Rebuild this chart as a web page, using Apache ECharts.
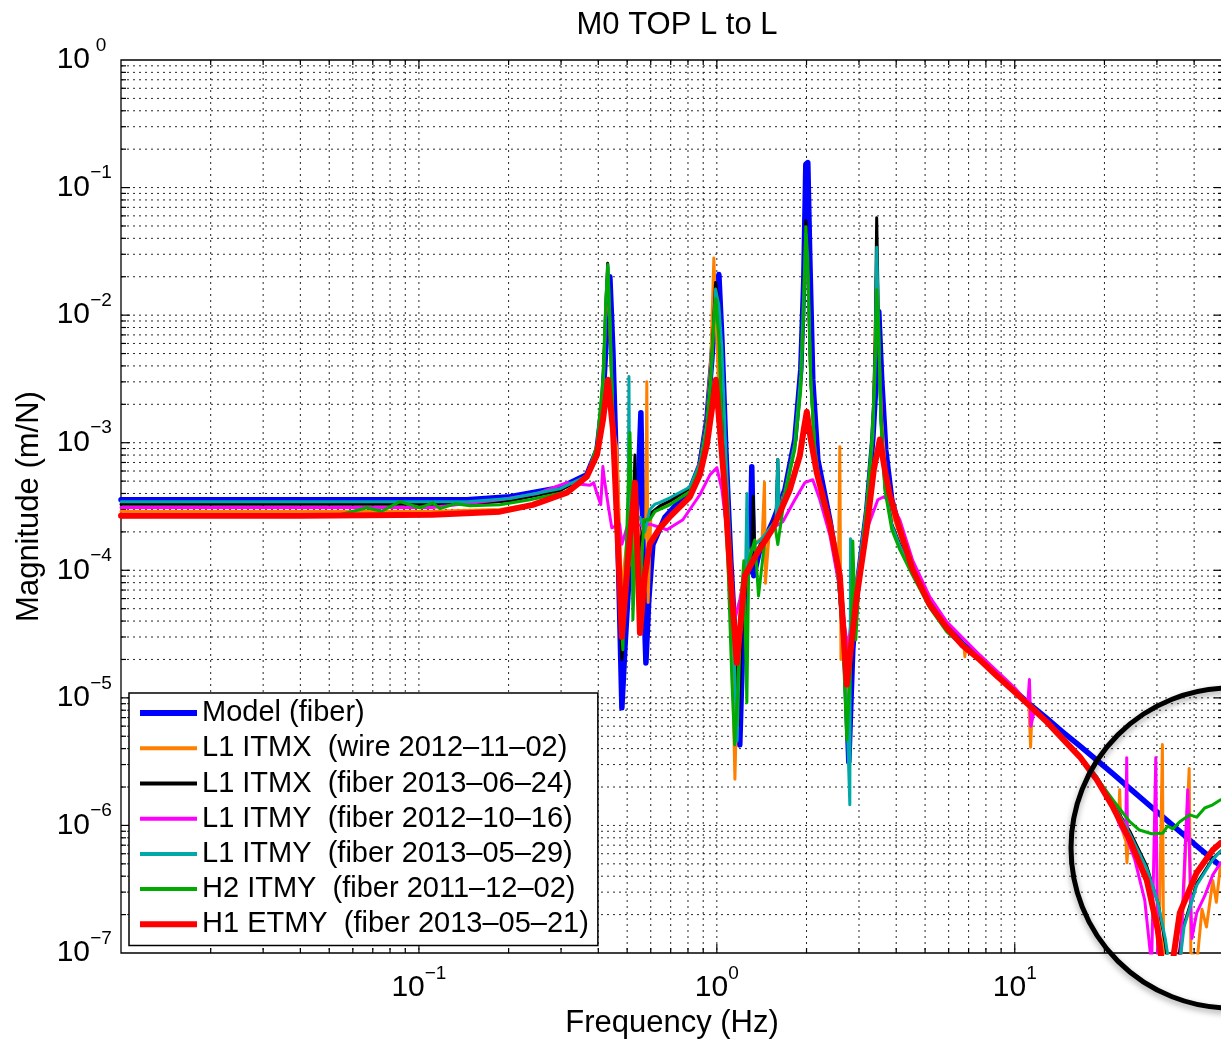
<!DOCTYPE html>
<html>
<head>
<meta charset="utf-8">
<script src="https://cdn.jsdelivr.net/npm/echarts@6/dist/echarts.min.js"></script>
<style>html,body{margin:0;padding:0;background:#fff}#chart{width:1221px;height:1039px}</style>
</head>
<body>
<div id="chart"></div>
<script>
// ---------- data: [frequency (Hz), magnitude (m/N)] ----------
const modelFiber = [[0.01,3.57e-4],[0.145,3.57e-4],[0.202,3.77e-4],[0.297,4.44e-4],[0.366,5.61e-4],[0.396,8.81e-4],[0.4145,2.17e-3],[0.4275,7.69e-3],[0.4375,0.020],[0.4477,5.37e-3],[0.458,8.81e-4],[0.469,8.27e-5],[0.480,8.35e-6],[0.491,2.38e-5],[0.511,1.19e-4],[0.535,2.49e-4],[0.547,6.14e-4],[0.556,1.72e-3],[0.569,5.87e-5],[0.578,1.88e-5],[0.591,5.87e-5],[0.610,1.59e-4],[0.669,2.6e-4],[0.812,4.28e-4],[0.877,6.72e-4],[0.926,1.52e-3],[0.962,4.48e-3],[0.992,1.32e-2],[1.016,2.08e-2],[1.040,6.43e-3],[1.072,8.81e-4],[1.114,1.19e-4],[1.158,2.38e-5],[1.194,4.28e-6],[1.223,2.85e-5],[1.261,9.06e-5],[1.29,1.01e-4],[1.31,6.48e-4],[1.331,9.06e-5],[1.394,1.45e-4],[1.541,2.40e-4],[1.692,4.28e-4],[1.827,1.06e-3],[1.913,3.74e-3],[1.958,1.9e-2],[1.989,0.152],[2.02,0.157],[2.052,2.72e-2],[2.099,3.12e-3],[2.183,7.36e-4],[2.394,2.49e-4],[2.587,8.27e-5],[2.69,2.38e-5],[2.773,3.15e-6],[2.86,2.38e-5],[2.973,8.27e-5],[3.187,2.98e-4],[3.338,1.06e-3],[3.442,3.74e-3],[3.496,1.07e-2],[3.577,3.12e-3],[3.69,8.81e-4],[3.866,3.57e-4],[4.113,2.08e-4],[4.547,1.05e-4],[5.186,5.6e-5],[5.913,3.7e-5],[6.692,2.65e-5],[7.63,2.05e-5],[8.70,1.52e-5],[10,1.13e-5],[11.23,8.9e-6],[12.81,6.9e-6],[14.49,5.4e-6],[16.53,4.2e-6],[18.85,3.25e-6],[21.33,2.55e-6],[24.32,1.95e-6],[27.73,1.5e-6],[33.6,1.02e-6],[40.8,6.9e-7],[49.1,4.8e-7]];

const l1ItmxWire = [[0.01,2.9e-4],[0.111,2.9e-4],[0.187,3.0e-4],[0.241,3.3e-4],[0.314,4.2e-4],[0.366,5.6e-4],[0.396,9.0e-4],[0.415,2.6e-3],[0.424,0.011],[0.431,0.018],[0.438,7.0e-3],[0.448,1.4e-3],[0.462,8.8e-4],[0.469,3.0e-4],[0.480,6.0e-5],[0.491,1.2e-4],[0.503,2.0e-4],[0.52,1.2e-4],[0.531,2.2e-4],[0.552,1.5e-4],[0.568,2.5e-4],[0.577,1.8e-4],[0.582,3.0e-3],[0.588,5.6e-5],[0.60,2.6e-4],[0.62,2.9e-4],[0.644,3.1e-4],[0.696,3.4e-4],[0.812,4.3e-4],[0.877,7.0e-4],[0.926,1.6e-3],[0.955,4.5e-3],[0.977,0.028],[0.99,0.012],[1.01,3.5e-3],[1.04,8.5e-4],[1.08,1.6e-4],[1.12,3.5e-5],[1.15,2.3e-6],[1.175,2.0e-5],[1.21,7.0e-5],[1.25,1.2e-4],[1.33,1.6e-4],[1.42,1.8e-4],[1.445,4.9e-4],[1.455,7.9e-5],[1.50,2.0e-4],[1.60,2.8e-4],[1.692,4.2e-4],[1.827,1.0e-3],[1.913,3.5e-3],[1.958,0.015],[1.99,0.05],[2.02,0.02],[2.067,3.0e-3],[2.133,9.0e-4],[2.25,3.6e-4],[2.394,2.2e-4],[2.56,1.1e-4],[2.587,9.3e-4],[2.61,2.0e-5],[2.65,4.0e-5],[2.731,6.0e-6],[2.80,2.0e-5],[2.95,7.0e-5],[3.187,3.2e-4],[3.338,1.1e-3],[3.43,0.02],[3.496,6.0e-3],[3.577,1.5e-3],[3.69,5.5e-4],[3.866,2.8e-4],[4.113,1.9e-4],[4.547,1.0e-4],[5.186,5.4e-5],[5.913,3.6e-5],[6.75,2.6e-5],[6.80,2.1e-5],[6.85,2.5e-5],[7.63,2.0e-5],[8.70,1.5e-5],[10,1.12e-5],[11.15,8.9e-6],[11.3,4.1e-6],[11.45,8.6e-6],[12.81,6.5e-6],[14.49,4.8e-6],[16.53,3.5e-6],[18.85,2.3e-6],[21.33,1.4e-6],[22.3,1.1e-6],[22.5,1.9e-6],[22.7,1.0e-6],[23.6,7.5e-7],[23.8,5.1e-7],[24.1,8.0e-7],[26.0,5.0e-7],[28.5,3.0e-7],[30.5,1.2e-7],[31.3,4.3e-6],[31.6,8.0e-8],[33.0,7.0e-8],[36.0,8.0e-8],[38.5,2.8e-6],[39.0,1.0e-7],[41.0,9.0e-8],[42.5,2.2e-7],[44.0,1.6e-7],[46.2,3.7e-7],[47.5,2.5e-7],[49.1,5.0e-7]];

const l1ItmxFiber = [[0.01,3.3e-4],[0.145,3.3e-4],[0.202,3.5e-4],[0.297,4.2e-4],[0.366,5.5e-4],[0.396,8.8e-4],[0.4145,2.6e-3],[0.424,0.012],[0.430,0.0255],[0.437,0.01],[0.448,1.5e-3],[0.458,3.5e-4],[0.469,8.0e-5],[0.480,2.0e-5],[0.491,5.0e-5],[0.51,1.5e-4],[0.525,3.0e-4],[0.531,8.0e-4],[0.537,1.0e-4],[0.55,1.6e-4],[0.57,2.2e-4],[0.60,2.8e-4],[0.644,3.2e-4],[0.696,3.5e-4],[0.812,4.4e-4],[0.877,6.8e-4],[0.926,1.55e-3],[0.962,4.6e-3],[0.99,0.018],[1.016,0.012],[1.04,5.0e-3],[1.072,8.5e-4],[1.114,1.2e-4],[1.158,1.5e-5],[1.18,6.0e-6],[1.21,3.0e-5],[1.26,1.0e-4],[1.31,1.2e-4],[1.325,3.8e-4],[1.34,1.3e-4],[1.40,1.6e-4],[1.50,2.1e-4],[1.58,2.6e-4],[1.602,7.4e-4],[1.62,2.7e-4],[1.692,4.2e-4],[1.827,1.0e-3],[1.913,3.6e-3],[1.958,0.016],[1.99,0.055],[2.02,0.025],[2.067,3.2e-3],[2.133,8.8e-4],[2.25,3.6e-4],[2.394,2.3e-4],[2.547,1.0e-4],[2.648,3.2e-5],[2.75,5.0e-6],[2.85,2.8e-5],[2.95,7.5e-5],[3.187,3.1e-4],[3.338,1.1e-3],[3.40,6.0e-3],[3.44,0.058],[3.48,0.012],[3.55,1.7e-3],[3.663,4.6e-4],[3.866,2.3e-4],[4.113,1.6e-4],[4.547,9.5e-5],[5.186,5.3e-5],[5.913,3.5e-5],[7.63,2.0e-5],[10,1.12e-5],[12.81,6.6e-6],[16.53,3.5e-6],[18.85,2.4e-6],[21.33,1.5e-6],[24.32,9.0e-7],[27.73,4.8e-7],[30.2,2.5e-7],[32.0,1.2e-7],[33.0,7.0e-8],[35.0,7.0e-8],[36.5,1.5e-7],[40.8,3.5e-7],[46.2,5.5e-7],[49.1,6.3e-7]];

const l1ItmyFiber2012 = [[0.01,3.1e-4],[0.111,3.1e-4],[0.187,3.57e-4],[0.25,4.0e-4],[0.314,4.86e-4],[0.375,4.65e-4],[0.386,4.86e-4],[0.396,4.0e-4],[0.4076,3.27e-4],[0.4145,6.5e-4],[0.42,5.0e-4],[0.4341,2.98e-4],[0.444,2.15e-4],[0.472,2.3e-4],[0.48,1.6e-4],[0.50,2.2e-4],[0.596,2.3e-4],[0.68,2.08e-4],[0.769,2.49e-4],[0.877,3.91e-4],[0.948,5.6e-4],[1.0,6.37e-4],[1.04,4.28e-4],[1.089,1.73e-4],[1.148,4.09e-5],[1.194,5.9e-5],[1.261,1.1e-4],[1.394,1.45e-4],[1.507,2.08e-4],[1.665,2.4e-4],[1.827,3.57e-4],[1.974,4.86e-4],[2.099,5.13e-4],[2.217,3.57e-4],[2.394,1.9e-4],[2.587,7.1e-5],[2.752,2.38e-5],[2.905,7.1e-5],[3.187,2.08e-4],[3.47,3.57e-4],[3.635,3.77e-4],[3.806,3.45e-4],[4.113,2.49e-4],[4.547,1.19e-4],[5.186,6.2e-5],[5.913,3.95e-5],[7.63,2.17e-5],[10,1.2e-5],[11.06,9.1e-6],[11.2,1.39e-5],[11.32,6.0e-6],[11.67,8.2e-6],[14.49,4.9e-6],[18.85,2.36e-6],[21.33,1.4e-6],[22.5,1.0e-6],[23.58,8.3e-7],[23.76,3.4e-6],[23.9,7.7e-7],[25.28,5.4e-7],[27.31,2.6e-7],[28.8,8.0e-8],[29.74,3.4e-6],[30.2,8.0e-8],[32.6,7.0e-8],[35.8,7.0e-8],[38.07,1.9e-6],[39.3,1.3e-7],[40.8,2.06e-7],[43.4,2.8e-7],[46.2,4.1e-7],[49.1,5.1e-7]];

const l1ItmyFiber2013 = [[0.01,3.45e-4],[0.145,3.45e-4],[0.202,3.65e-4],[0.297,4.35e-4],[0.366,5.5e-4],[0.396,8.6e-4],[0.4145,2.4e-3],[0.424,0.012],[0.4307,0.024],[0.4375,0.0095],[0.448,1.6e-3],[0.458,3.6e-4],[0.469,1.0e-4],[0.480,3.0e-5],[0.491,8.0e-5],[0.503,1.4e-4],[0.507,3.3e-3],[0.511,1.1e-4],[0.52,2.0e-4],[0.531,2.5e-4],[0.552,2.6e-4],[0.573,2.0e-4],[0.596,3.0e-4],[0.62,3.3e-4],[0.644,3.4e-4],[0.696,3.7e-4],[0.812,4.5e-4],[0.877,6.8e-4],[0.926,1.45e-3],[0.962,4.2e-3],[0.99,0.016],[1.016,0.012],[1.04,5.5e-3],[1.072,8.5e-4],[1.114,1.15e-4],[1.148,1.6e-5],[1.17,4.6e-6],[1.194,3.0e-5],[1.223,8.0e-5],[1.25,1.1e-4],[1.262,4.0e-4],[1.275,1.2e-4],[1.34,1.6e-4],[1.394,1.7e-4],[1.45,1.9e-4],[1.52,2.2e-4],[1.58,2.5e-4],[1.602,7.4e-4],[1.62,2.7e-4],[1.692,4.1e-4],[1.827,9.8e-4],[1.913,3.4e-3],[1.958,0.0145],[1.99,0.043],[2.02,0.021],[2.067,3.0e-3],[2.133,8.6e-4],[2.25,3.5e-4],[2.394,2.25e-4],[2.547,9.5e-5],[2.648,3.0e-5],[2.731,8.0e-6],[2.795,1.45e-6],[2.81,1.77e-4],[2.825,2.5e-5],[2.86,4.0e-5],[2.95,8.0e-5],[3.187,3.2e-4],[3.338,1.15e-3],[3.40,5.0e-3],[3.44,0.034],[3.48,0.011],[3.55,1.6e-3],[3.663,4.5e-4],[3.866,2.25e-4],[4.113,1.55e-4],[4.547,9.6e-5],[5.186,5.3e-5],[5.913,3.5e-5],[7.63,2.0e-5],[10,1.12e-5],[12.81,6.6e-6],[16.53,3.5e-6],[18.85,2.4e-6],[21.33,1.5e-6],[24.32,8.6e-7],[27.73,4.6e-7],[30.2,2.5e-7],[32.0,1.3e-7],[33.3,7.0e-8],[35.5,7.0e-8],[37.0,1.6e-7],[40.8,3.4e-7],[46.2,5.4e-7],[49.1,6.3e-7]];

const h2ItmyFiber = [[0.01,2.63e-4],[0.0399,2.68e-4],[0.055,2.75e-4],[0.0669,3.09e-4],[0.075,2.9e-4],[0.0863,3.45e-4],[0.1008,3.09e-4],[0.1114,3.38e-4],[0.1176,3.04e-4],[0.132,3.32e-4],[0.1483,3.2e-4],[0.187,3.26e-4],[0.236,3.57e-4],[0.314,4.13e-4],[0.366,5.31e-4],[0.396,9.64e-4],[0.4145,3.12e-3],[0.4241,0.0132],[0.4307,0.0249],[0.4375,9.22e-3],[0.4477,1.52e-3],[0.458,2.49e-4],[0.4726,5.87e-5],[0.4837,2.38e-5],[0.4951,1.19e-4],[0.511,1.2e-3],[0.5186,2.49e-4],[0.5226,4.09e-5],[0.5347,1.73e-4],[0.5516,5.87e-5],[0.569,2.49e-4],[0.596,2.49e-4],[0.619,2.88e-4],[0.6957,3.26e-4],[0.8117,4.13e-4],[0.877,6.37e-4],[0.9256,1.27e-3],[0.9547,3.12e-3],[0.977,9.22e-3],[0.992,0.0135],[1.016,6.43e-3],[1.047,8.81e-4],[1.089,1.19e-4],[1.123,1.39e-5],[1.148,4.28e-6],[1.176,1.16e-5],[1.194,4.09e-5],[1.232,1.19e-4],[1.261,9.14e-6],[1.28,1.19e-4],[1.341,1.73e-4],[1.38,6.3e-5],[1.449,1.73e-4],[1.565,2.28e-4],[1.602,1.59e-4],[1.692,3.91e-4],[1.827,8.81e-4],[1.913,2.6e-3],[1.958,0.011],[1.989,0.0494],[2.02,0.0272],[2.067,3.12e-3],[2.133,8.81e-4],[2.25,3.57e-4],[2.394,2.28e-4],[2.547,1.01e-4],[2.648,2.85e-5],[2.731,4.68e-6],[2.817,1.99e-5],[2.86,1.7e-4],[2.927,2.85e-5],[3.019,1.01e-4],[3.187,3.26e-4],[3.312,1.06e-3],[3.39,3.12e-3],[3.442,0.0158],[3.496,7.69e-3],[3.55,1.52e-3],[3.663,4.28e-4],[3.866,2.08e-4],[4.113,1.45e-4],[4.547,9.06e-5],[5.186,5.08e-5],[5.913,3.29e-5],[7.63,1.95e-5],[10,1.09e-5],[12.81,6.48e-6],[16.53,3.45e-6],[18.85,2.36e-6],[21.33,1.59e-6],[24.32,1.07e-6],[26.2,9.2e-7],[28.8,8.6e-7],[31.4,8.7e-7],[32.6,9.9e-7],[33.9,9.4e-7],[35.8,1.07e-6],[38.7,1.21e-6],[40.8,1.16e-6],[43.4,1.37e-6],[46.2,1.45e-6],[49.1,1.59e-6]];

const h1EtmyFiber = [[0.01,2.68e-4],[0.0399,2.68e-4],[0.111,2.72e-4],[0.187,2.88e-4],[0.241,3.26e-4],[0.314,4.05e-4],[0.366,5.41e-4],[0.396,8.05e-4],[0.415,1.52e-3],[0.431,3.12e-3],[0.448,1.27e-3],[0.462,2.49e-4],[0.480,3.01e-5],[0.503,1.19e-4],[0.531,4.86e-4],[0.543,1.19e-4],[0.552,3.23e-5],[0.573,9.06e-5],[0.596,1.61e-4],[0.644,2.15e-4],[0.696,2.63e-4],[0.812,3.77e-4],[0.877,5.61e-4],[0.926,9.64e-4],[0.962,1.82e-3],[0.992,3.12e-3],[1.024,1.27e-3],[1.064,4.28e-4],[1.114,8.27e-5],[1.167,1.88e-5],[1.213,4.90e-5],[1.242,9.06e-5],[1.362,1.35e-4],[1.541,2.12e-4],[1.758,4.28e-4],[1.899,7.91e-4],[1.958,1.27e-3],[2.004,1.75e-3],[2.067,1.06e-3],[2.165,5.82e-4],[2.394,2.32e-4],[2.587,9.06e-5],[2.731,1.27e-5],[2.838,2.85e-5],[2.950,6.31e-5],[3.187,2.15e-4],[3.364,6.14e-4],[3.524,1.06e-3],[3.663,6.14e-4],[3.806,3.91e-4],[4.113,2.08e-4],[4.547,1.01e-4],[5.186,5.36e-5],[5.913,3.54e-5],[6.692,2.56e-5],[7.63,1.99e-5],[8.70,1.49e-5],[10,1.11e-5],[11.23,8.65e-6],[12.81,6.48e-6],[14.49,4.77e-6],[16.53,3.45e-6],[18.85,2.28e-6],[21.33,1.40e-6],[24.32,7.7e-7],[27.73,3.74e-7],[30.2,1.52e-7],[31.4,7.4e-8],[33.6,7.4e-8],[35.8,2.06e-7],[40.8,4.26e-7],[46.2,6.42e-7],[49.1,7.29e-7]];

const seriesNames = ['Model (fiber)', 'L1 ITMX  (wire 2012\u201311\u201302)', 'L1 ITMX  (fiber 2013\u201306\u201324)', 'L1 ITMY  (fiber 2012\u201310\u201316)', 'L1 ITMY  (fiber 2013\u201305\u201329)', 'H2 ITMY  (fiber 2011\u201312\u201302)', 'H1 ETMY  (fiber 2013\u201305\u201321)'];
const seriesData = [modelFiber, l1ItmxWire, l1ItmxFiber, l1ItmyFiber2012, l1ItmyFiber2013, h2ItmyFiber, h1EtmyFiber];
const seriesColors = ['#0000ff', '#ff8000', '#000000', '#ff00ff', '#00a8a8', '#00aa00', '#ff0000'];
const seriesWidths = [5.5, 3, 3, 3, 3, 3, 6];

// axis ticks
const xDecades = [0.01, 0.1, 1, 10];
const yDecades = [1e-7, 1e-6, 1e-5, 1e-4, 1e-3, 1e-2, 1e-1];
const minorSteps = [2, 3, 4, 5, 6, 7, 8, 9];
const X_MIN = 0.01, X_MAX = 50, Y_MIN = 1e-7, Y_MAX = 1;
const xLabelExponents = [-1, 0, 1];
const yLabelExponents = [-7, -6, -5, -4, -3, -2, -1, 0];

const FONT = '"Liberation Sans", Arial, Helvetica, sans-serif';

// grid lines / ticks as [x, y, direction(0=vertical,1=horizontal), major]
const gridData = [];
xDecades.forEach(d => {
  if (d > X_MIN && d < X_MAX) gridData.push([d, 1e-3, 0, 1]);
  minorSteps.forEach(k => { const v = +(d * k).toPrecision(6); if (v > X_MIN && v < X_MAX) gridData.push([v, 1e-3, 0, 0]); });
});
yDecades.forEach(d => {
  if (d > Y_MIN && d < Y_MAX) gridData.push([1, d, 1, 1]);
  minorSteps.forEach(k => { const v = +(d * k).toPrecision(6); if (v > Y_MIN && v < Y_MAX) gridData.push([1, v, 1, 0]); });
});

function supText(e) { return (e < 0 ? '\u2212' + (-e) : String(e)); }
function exponentOf(v) {
  const l = Math.log10(v); const e = Math.round(l);
  return Math.abs(l - e) < 1e-6 ? e : null;
}

const chart = echarts.init(document.getElementById('chart'), null, { renderer: 'canvas' });

const gridStyle = { stroke: '#000', lineWidth: 1, lineDash: [2, 4], opacity: 0.85 };
const tickStyle = { stroke: '#000', lineWidth: 1.2 };

const series = seriesNames.map((name, i) => ({
  type: 'line', name: name, data: seriesData[i], symbol: 'none', showSymbol: false,
  lineStyle: { color: seriesColors[i], width: seriesWidths[i], join: 'round', cap: 'round' },
  itemStyle: { color: seriesColors[i] }, z: 3, silent: true, animation: false
}));

series.unshift({
  type: 'custom', name: '__grid', data: gridData, encode: { x: 0, y: 1 }, z: 1, silent: true, animation: false, clip: false,
  renderItem: function (params, api) {
    const cs = params.coordSys;
    const dir = api.value(2), major = api.value(3);
    const tl = major ? 9 : 5;
    const x0 = cs.x, x1 = cs.x + cs.width, y0 = cs.y, y1 = cs.y + cs.height;
    const ch = [];
    if (dir === 0) {
      const p = api.coord([api.value(0), 1e-3])[0];
      ch.push({ type: 'line', shape: { x1: p, y1: y0, x2: p, y2: y1 }, style: gridStyle });
      ch.push({ type: 'line', shape: { x1: p, y1: y1, x2: p, y2: y1 - tl }, style: tickStyle });
      ch.push({ type: 'line', shape: { x1: p, y1: y0, x2: p, y2: y0 + tl }, style: tickStyle });
    } else {
      const p = api.coord([1, api.value(1)])[1];
      ch.push({ type: 'line', shape: { x1: x0, y1: p, x2: x1, y2: p }, style: gridStyle });
      ch.push({ type: 'line', shape: { x1: x0, y1: p, x2: x0 + tl, y2: p }, style: tickStyle });
      ch.push({ type: 'line', shape: { x1: x1, y1: p, x2: x1 - tl, y2: p }, style: tickStyle });
    }
    return { type: 'group', children: ch };
  }
});

const legendIcons = seriesWidths.map(w => 'path://M0 0H57V' + (w > 4 ? 6 : 4) + 'H0Z');

const option = {
  animation: false,
  backgroundColor: '#ffffff',
  textStyle: { fontFamily: FONT },
  title: {
    text: 'M0 TOP L to L', left: 672, top: 5, textAlign: 'center',
    textStyle: { fontSize: 31, fontWeight: 'normal', color: '#000', fontFamily: FONT }
  },
  grid: { left: 121, right: -2, top: 60, bottom: 86, show: true, borderColor: '#000', borderWidth: 1.3, backgroundColor: '#fff', containLabel: false, outerBoundsMode: 'none' },
  legend: {
    orient: 'vertical', left: 129, top: 693, itemWidth: 57, itemHeight: 14, itemGap: 5,
    padding: [5, 9, 6, 11], backgroundColor: '#fff', borderColor: '#000', borderWidth: 1.5, borderRadius: 0,
    selectedMode: false, z: 10,
    textStyle: { fontSize: 29, fontFamily: FONT, color: '#000', lineHeight: 30.2 },
    data: seriesNames.map((n, i) => ({ name: n, icon: legendIcons[i] }))
  },
  xAxis: {
    type: 'log', logBase: 10, min: X_MIN, max: X_MAX,
    axisLine: { show: false }, axisTick: { show: false }, splitLine: { show: false }, minorTick: { show: false }, minorSplitLine: { show: false },
    axisLabel: {
      margin: 11, color: '#000',
      formatter: function (v) { const e = exponentOf(v); return (e !== null && xLabelExponents.indexOf(e) >= 0) ? '{b|10}{s|' + supText(e) + '}' : ''; },
      rich: {
        b: { fontSize: 30, fontFamily: FONT, color: '#000', lineHeight: 48 },
        s: { fontSize: 19, fontFamily: FONT, color: '#000', lineHeight: 19, verticalAlign: 'top' }
      }
    },
    name: 'Frequency (Hz)', nameLocation: 'middle', nameGap: 53,
    nameTextStyle: { fontSize: 31, fontFamily: FONT, color: '#000' }
  },
  yAxis: {
    type: 'log', logBase: 10, min: Y_MIN, max: Y_MAX,
    axisLine: { show: false }, axisTick: { show: false }, splitLine: { show: false }, minorTick: { show: false }, minorSplitLine: { show: false },
    axisLabel: {
      margin: 9, color: '#000',
      formatter: function (v) { const e = exponentOf(v); return (e !== null && yLabelExponents.indexOf(e) >= 0) ? '{b|10}{s|' + supText(e) + '}' : ''; },
      rich: {
        b: { fontSize: 30, fontFamily: FONT, color: '#000', lineHeight: 48 },
        s: { fontSize: 19, fontFamily: FONT, color: '#000', lineHeight: 19, verticalAlign: 'top', width: 22, align: 'left' }
      }
    },
    name: 'Magnitude (m/N)', nameLocation: 'middle', nameRotate: 90, nameGap: 76,
    nameTextStyle: { fontSize: 31, fontFamily: FONT, color: '#000' }
  },
  graphic: [{
    type: 'circle', silent: true, z: 100,
    shape: { cx: 1231, cy: 848, r: 160 },
    style: { fill: 'none', stroke: '#000', lineWidth: 5, shadowBlur: 6, shadowColor: 'rgba(0,0,0,0.35)', shadowOffsetY: 3 }
  }],
  series: series
};

chart.setOption(option);
</script>
</body>
</html>
